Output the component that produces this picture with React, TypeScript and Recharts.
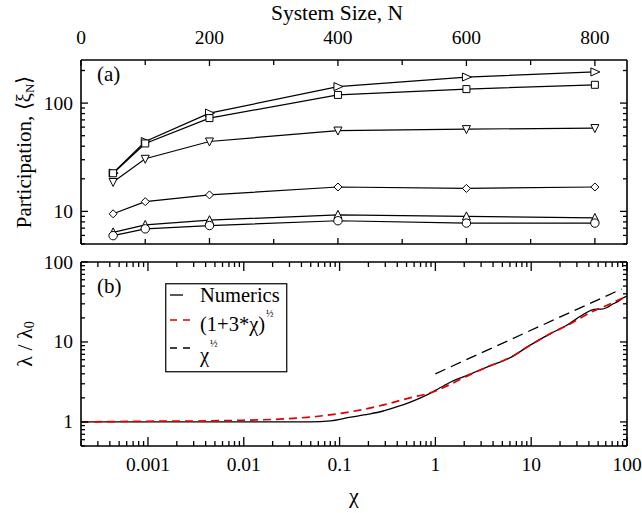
import React from 'react';
import { LineChart, Line, XAxis, YAxis, Legend } from 'recharts';

// ---------- Panel (a) data ----------
const systemSizes = [50, 100, 200, 400, 600, 800];
const seriesRightTri = [22.6, 44.2, 80.8, 142, 174, 194];
const seriesSquare = [22.5, 42.4, 72.7, 119, 134.6, 147.6];
const seriesDownTri = [18.7, 30.6, 44.2, 55.8, 57.5, 58.8];
const seriesDiamond = [9.5, 12.3, 14.2, 16.8, 16.3, 16.8];
const seriesUpTri = [6.4, 7.5, 8.3, 9.3, 9.0, 8.7];
const seriesCircle = [5.97, 6.9, 7.4, 8.2, 7.8, 7.8];

const topXMajor = [0, 200, 400, 600, 800];
const topXMinor = [100, 300, 500, 700];
const topYMajor = [10, 100];
const topYMajorLabels = ['10', '100'];

// ---------- Panel (b) data ----------
const numericsChi = [0.0002, 0.001, 0.01, 0.03, 0.05, 0.08, 0.126, 0.2, 0.28, 0.4, 0.54, 0.7, 0.87, 1.0, 1.38, 2.24, 3.6, 6.2, 9.3, 16.2, 24, 33.5, 42.7, 48, 54.3, 62, 69, 80, 91, 100];
const numericsVal = [1.0, 1.0, 1.0, 1.0, 1.0, 1.03, 1.14, 1.25, 1.36, 1.55, 1.76, 2.0, 2.26, 2.48, 3.07, 3.9, 4.95, 6.46, 8.81, 12.9, 16.4, 21.4, 25.1, 25.8, 25.7, 27.0, 29.2, 32, 35.5, 37.5];
const fitChi = [0.0002, 0.001, 0.004, 0.01, 0.026, 0.057, 0.126, 0.28, 0.54, 0.87, 1.41, 2.24, 3.6, 6.2, 9.3, 16, 24, 34, 43, 54, 69, 100];
const fitVal = [1.0, 1.02, 1.03, 1.05, 1.09, 1.17, 1.33, 1.62, 2.0, 2.3, 2.92, 3.85, 4.95, 6.5, 8.8, 12.8, 16.2, 20.5, 23.9, 26.8, 30.5, 37.5];
const powChi = [1, 88];
const powVal = [4.0, 46];

const botXMajor = [0.001, 0.01, 0.1, 1, 10, 100];
const botXMajorLabels = ['0.001', '0.01', '0.1', '1', '10', '100'];
const botYMajor = [1, 10, 100];
const botYMajorLabels = ['1', '10', '100'];

// ---------- tables ----------
const topData = systemSizes.map((n, i) => ({
  n,
  rt: seriesRightTri[i],
  sq: seriesSquare[i],
  dt: seriesDownTri[i],
  di: seriesDiamond[i],
  ut: seriesUpTri[i],
  ci: seriesCircle[i],
}));
const numericsData = numericsChi.map((x, i) => ({ x, y: numericsVal[i] }));
const fitData = fitChi.map((x, i) => ({ x, y: fitVal[i] }));
const powData = powChi.map((x, i) => ({ x, y: powVal[i] }));

const logMinors = (lo: number, hi: number) => {
  const out: number[] = [];
  for (let e = -5; e <= 3; e++) {
    for (let d = 1; d <= 9; d++) {
      const v = d * Math.pow(10, e);
      if (v >= lo * 0.999 && v <= hi * 1.001) out.push(v);
    }
  }
  return out;
};

const topYTicks = logMinors(5, 250);
const botYTicks = logMinors(0.5, 100);
const botXTicks = logMinors(0.0002, 100);
const isMajor = (v: number, majors: number[]) => majors.some((m) => Math.abs(v - m) / m < 1e-6);

// ---------- geometry ----------
const FONT = 'Liberation Serif';
const TICK_FS = 19.5;
const L = 81;
const R = 627;
const T1 = 60;
const B1 = 244;
const T2 = 262;
const B2 = 446;
const AX = { stroke: '#000', strokeWidth: 1.6 };

// ---------- ticks ----------
const yTick = (x0: number, dir: number, majors: number[], labels: string[] | null, majLen: number, minLen: number) => (props: any) => {
  const { y, payload } = props;
  const v = payload.value;
  const maj = isMajor(v, majors);
  const len = maj ? majLen : minLen;
  const idx = majors.findIndex((m) => Math.abs(v - m) / m < 1e-6);
  return (
    <g>
      <line x1={x0} x2={x0 + dir * len} y1={y} y2={y} stroke="#000" strokeWidth={1.3} />
      {labels && maj && (
        <text x={x0 - 8} y={y} textAnchor="end" dominantBaseline="central" fontFamily={FONT} fontSize={TICK_FS} fill="#000">
          {labels[idx]}
        </text>
      )}
    </g>
  );
};

const xTick = (y0: number, dir: number, majors: number[], labels: string[] | null, labelY: number, majLen: number, minLen: number) => (props: any) => {
  const { x, payload } = props;
  const v = payload.value;
  const maj = isMajor(v, majors) || (v === 0 && majors.includes(0));
  const len = maj ? majLen : minLen;
  const idx = majors.findIndex((m) => (m === 0 ? v === 0 : Math.abs(v - m) / m < 1e-6));
  return (
    <g>
      <line x1={x} x2={x} y1={y0} y2={y0 + dir * len} stroke="#000" strokeWidth={1.3} />
      {labels && maj && (
        <text x={x} y={labelY} textAnchor="middle" dominantBaseline="central" fontFamily={FONT} fontSize={TICK_FS} fill="#000">
          {labels[idx]}
        </text>
      )}
    </g>
  );
};

// ---------- markers ----------
const S = 4;
const markerPath = (shape: string, cx: number, cy: number) => {
  switch (shape) {
    case 'rt':
      return `M${cx - S} ${cy - S} L${cx + S + 1} ${cy} L${cx - S} ${cy + S} Z`;
    case 'dt':
      return `M${cx - S} ${cy - S + 0.5} L${cx + S} ${cy - S + 0.5} L${cx} ${cy + S + 0.5} Z`;
    case 'ut':
      return `M${cx - S} ${cy + S - 0.5} L${cx + S} ${cy + S - 0.5} L${cx} ${cy - S - 0.5} Z`;
    case 'di':
      return `M${cx} ${cy - S} L${cx + S} ${cy} L${cx} ${cy + S} L${cx - S} ${cy} Z`;
    case 'sq':
      return `M${cx - S + 0.5} ${cy - S + 0.5} L${cx + S - 0.5} ${cy - S + 0.5} L${cx + S - 0.5} ${cy + S - 0.5} L${cx - S + 0.5} ${cy + S - 0.5} Z`;
    default:
      return '';
  }
};
const makeDot = (shape: string) => (props: any) => {
  const { cx, cy, index } = props;
  if (cx == null || cy == null) return <g key={`${shape}-${index}`} />;
  if (shape === 'ci') {
    return <circle key={`${shape}-${index}`} cx={cx} cy={cy} r={4.2} fill="#fff" stroke="#000" strokeWidth={1} />;
  }
  return <path key={`${shape}-${index}`} d={markerPath(shape, cx, cy)} fill="#fff" stroke="#000" strokeWidth={1} />;
};

// ---------- legend ----------
const LegendBox = () => (
  <svg width={123} height={90} style={{ display: 'block', overflow: 'visible' }}>
    <rect x={0.75} y={0.75} width={121} height={88} fill="#fff" stroke="#000" strokeWidth={1.2} />
    <line x1={5} x2={18} y1={12} y2={12} stroke="#000" strokeWidth={1.3} />
    <text x={35} y={12} dominantBaseline="central" fontFamily={FONT} fontSize={20.5} fill="#000">Numerics</text>
    <line x1={5} x2={25} y1={37} y2={37} stroke="#e00000" strokeWidth={1.6} strokeDasharray="7 6" />
    <text x={35} y={48} fontFamily={FONT} fontSize={20.5} fill="#000">
      (1+3*χ)
      <tspan dx={1} dy={-14} fontSize={10}>½</tspan>
    </text>
    <line x1={5} x2={25} y1={65} y2={65} stroke="#000" strokeWidth={1.3} strokeDasharray="7 6" />
    <text x={35} y={79} fontFamily={FONT} fontSize={20.5} fill="#000">
      χ
      <tspan dx={1} dy={-15} fontSize={10}>½</tspan>
    </text>
  </svg>
);

export default function App() {
  return (
    <div style={{ position: 'absolute', left: 0, top: 0, width: 642, height: 513, background: '#fff', fontFamily: FONT }}>
      {/* Panel (a) */}
      <div style={{ position: 'absolute', left: 0, top: 0 }}>
        <LineChart width={642} height={513} data={topData} margin={{ top: 59, right: 14, bottom: 268, left: 0 }}>
          <XAxis
            xAxisId="top"
            orientation="top"
            type="number"
            dataKey="n"
            domain={[0, 850]}
            ticks={[...topXMajor, ...topXMinor]}
            height={1}
            axisLine={AX}
            tickLine={false}
            interval={0}
            tick={xTick(T1, 1, topXMajor, topXMajor.map(String), 37, 6, 5)}
            label={{
              content: () => (
                <text x={337} y={13} textAnchor="middle" dominantBaseline="central" fontFamily={FONT} fontSize={21.5} fill="#000">
                  System Size, N
                </text>
              ),
            }}
          />
          <XAxis
            xAxisId="bot"
            orientation="bottom"
            type="number"
            dataKey="n"
            domain={[0, 850]}
            ticks={[...topXMajor, ...topXMinor]}
            height={1}
            axisLine={AX}
            tickLine={false}
            interval={0}
            tick={xTick(B1, -1, topXMajor, null, 0, 6, 5)}
          />
          <YAxis
            yAxisId="l"
            scale="log"
            domain={[5, 250]}
            allowDataOverflow
            ticks={topYTicks}
            interval={0}
            width={81}
            axisLine={AX}
            tickLine={false}
            tick={yTick(L, 1, topYMajor, topYMajorLabels, 7, 4)}
            label={{
              content: () => (
                <text transform="translate(24,152) rotate(-90)" textAnchor="middle" dominantBaseline="central" fontFamily={FONT} fontSize={21} fill="#000">
                  Participation, ⟨ξ<tspan dy={5} fontSize={13}>N</tspan><tspan dy={-5}>⟩</tspan>
                </text>
              ),
            }}
          />
          <YAxis
            yAxisId="r"
            orientation="right"
            scale="log"
            domain={[5, 250]}
            allowDataOverflow
            ticks={topYTicks}
            interval={0}
            width={1}
            axisLine={AX}
            tickLine={false}
            tick={yTick(R, -1, topYMajor, null, 7, 4)}
          />
          {[
            ['rt', 'rt'],
            ['sq', 'sq'],
            ['dt', 'dt'],
            ['di', 'di'],
            ['ut', 'ut'],
            ['ci', 'ci'],
          ].map(([key, shape]) => (
            <Line
              key={key}
              xAxisId="top"
              yAxisId="l"
              dataKey={key}
              stroke="#000"
              strokeWidth={1.2}
              dot={makeDot(shape)}
              activeDot={false}
              isAnimationActive={false}
            />
          ))}
        </LineChart>
        <div style={{ position: 'absolute', left: 97, top: 62, fontFamily: FONT, fontSize: 21, lineHeight: '24px' }}>(a)</div>
      </div>

      {/* Panel (b) */}
      <div style={{ position: 'absolute', left: 0, top: 0 }}>
        <LineChart width={642} height={513} margin={{ top: 261, right: 14, bottom: 0, left: 0 }}>
          <XAxis
            xAxisId="b"
            orientation="bottom"
            type="number"
            dataKey="x"
            scale="log"
            domain={[0.0002, 100]}
            allowDataOverflow
            ticks={botXTicks}
            interval={0}
            height={67}
            axisLine={AX}
            tickLine={false}
            tick={xTick(B2, -1, botXMajor, botXMajorLabels, 464, 9, 5)}
            label={{
              content: () => (
                <text x={354} y={495} textAnchor="middle" dominantBaseline="central" fontFamily={FONT} fontSize={22} fill="#000">
                  χ
                </text>
              ),
            }}
          />
          <XAxis
            xAxisId="t"
            orientation="top"
            type="number"
            dataKey="x"
            scale="log"
            domain={[0.0002, 100]}
            allowDataOverflow
            ticks={botXTicks}
            interval={0}
            height={1}
            axisLine={AX}
            tickLine={false}
            tick={xTick(T2, 1, botXMajor, null, 0, 9, 5)}
          />
          <YAxis
            yAxisId="l"
            scale="log"
            domain={[0.5, 100]}
            allowDataOverflow
            ticks={botYTicks}
            interval={0}
            width={81}
            axisLine={AX}
            tickLine={false}
            tick={yTick(L, 1, botYMajor, botYMajorLabels, 7, 4)}
            label={{
              content: () => (
                <text transform="translate(24,344) rotate(-90)" textAnchor="middle" dominantBaseline="central" fontFamily={FONT} fontSize={22} fill="#000">
                  λ / λ<tspan dy={5} fontSize={14}>0</tspan>
                </text>
              ),
            }}
          />
          <YAxis
            yAxisId="r"
            orientation="right"
            scale="log"
            domain={[0.5, 100]}
            allowDataOverflow
            ticks={botYTicks}
            interval={0}
            width={1}
            axisLine={AX}
            tickLine={false}
            tick={yTick(R, -1, botYMajor, null, 7, 4)}
          />
          <Line data={numericsData} xAxisId="b" yAxisId="l" dataKey="y" stroke="#000" strokeWidth={1.3} dot={false} activeDot={false} isAnimationActive={false} type="monotone" />
          <Line data={fitData} xAxisId="b" yAxisId="l" dataKey="y" stroke="#e00000" strokeWidth={1.7} strokeDasharray="8 5" dot={false} activeDot={false} isAnimationActive={false} type="monotone" />
          <Line data={powData} xAxisId="b" yAxisId="l" dataKey="y" stroke="#000" strokeWidth={1.3} strokeDasharray="11 6" dot={false} activeDot={false} isAnimationActive={false} />
          <Legend
            layout="vertical"
            align="center"
            verticalAlign="middle"
            wrapperStyle={{ position: 'absolute', left: 165, top: 283, width: 123, height: 90 }}
            content={() => <LegendBox />}
          />
        </LineChart>
        <div style={{ position: 'absolute', left: 97, top: 274, fontFamily: FONT, fontSize: 21, lineHeight: '24px' }}>(b)</div>
      </div>
    </div>
  );
}
